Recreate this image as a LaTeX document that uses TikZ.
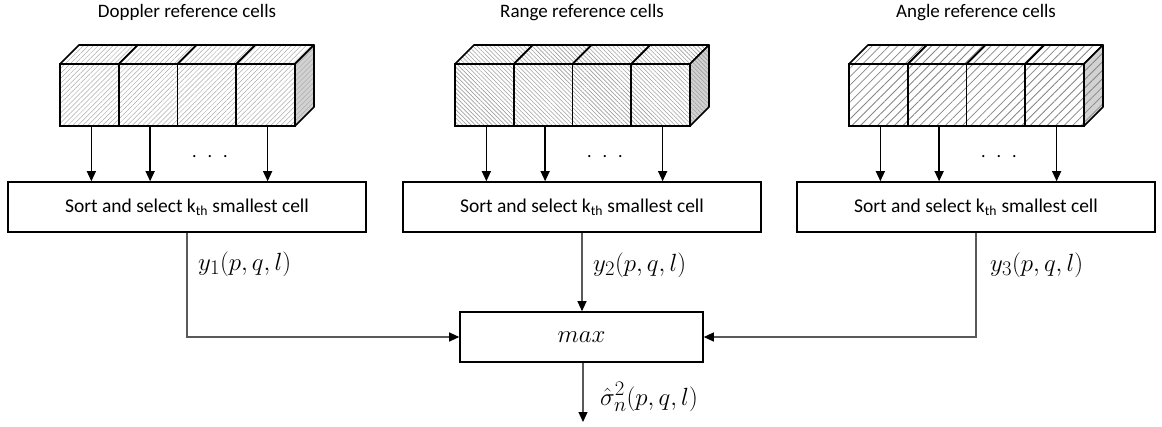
\documentclass[tikz,border=0pt]{standalone}
\usepackage{fontspec}
\setmainfont{Carlito}
\usetikzlibrary{patterns.meta,arrows.meta,calc}

\tikzset{
  cellbox/.style={draw, line width=1.6pt, minimum width=58.75pt, minimum height=62pt,
    inner sep=0pt, outer sep=0pt},
  facebox/.style={draw, line width=1.6pt, line join=round},
  hatchD/.style={pattern={Lines[angle=45,distance=3.5pt,line width=0.5pt]}, pattern color=gray!65},
  hatchR/.style={pattern={Lines[angle=-45,distance=3pt,line width=0.6pt]}, pattern color=gray!75},
  hatchA/.style={pattern={Lines[angle=45,distance=6pt,line width=0.8pt]}, pattern color=gray!95},
  titletext/.style={anchor=base, inner sep=0pt, font=\fontsize{19}{22}\selectfont},
  procbox/.style={draw, line width=1.6pt, minimum width=358pt, minimum height=50pt,
    inner sep=0pt, font=\fontsize{19.5}{22}\selectfont},
  maxbox/.style={draw, line width=1.6pt, minimum width=243pt, minimum height=50pt,
    inner sep=0pt, font=\fontsize{31}{34}\selectfont},
  mathlabel/.style={anchor=base west, inner sep=0pt, font=\fontsize{27.5}{32}\selectfont},
  dotrow/.style={anchor=base, inner sep=0pt, font=\fontsize{18}{20}\selectfont},
  feed/.style={line width=1.3pt, -{Triangle[length=10pt,width=9pt]}},
  conn/.style={line width=1.2pt, draw=black!65, -{Triangle[length=10pt,width=9pt,color=black]}},
}

% A row of four 3-D reference cells: #1 name prefix, #2 left x, #3 hatch style, #4 title
\newcommand\refblock[4]{%
  \foreach \i in {0,...,3} {
    \draw[facebox,#3] ({#2+\i*58.75},64) -- ++(19,-19) -- ++(58.75,0) -- ++(-19,19) -- cycle;
  }
  \draw[facebox,#3,preaction={fill=gray!35}] ({#2+4*58.75},64) -- ++(19,-19) -- ++(0,62) -- ++(-19,19) -- cycle;
  \foreach \i in {1,...,4} {
    \node[cellbox,#3] (#1\i) at ({#2+(\i-0.5)*58.75},95) {};
  }
  \node[titletext] (#1t) at ({#2+127},17) {#4};
  \node[dotrow] (#1dots) at ({#2+2.5*58.75+3},157) {.\hspace{11pt}.\hspace{11pt}.};
}

\begin{document}
\begin{tikzpicture}[x=1pt,y=-1pt]
  \useasboundingbox (0,0) rectangle (1162,426);

  \refblock{d}{60}{hatchD}{Doppler reference cells}
  \refblock{r}{455}{hatchR}{Range reference cells}
  \refblock{a}{849}{hatchA}{Angle reference cells}

  \node[procbox] (dsort) at (187,207) {Sort and select k\textsubscript{th} smallest cell};
  \node[procbox] (rsort) at (582,207) {Sort and select k\textsubscript{th} smallest cell};
  \node[procbox] (asort) at (976,207) {Sort and select k\textsubscript{th} smallest cell};

  \foreach \p in {d,r,a} {
    \foreach \k in {1,2,4} {
      \draw[feed] ([xshift=2pt]\p\k.south) -- ([xshift=2pt]\p\k.south |- \p sort.north);
    }
  }

  \node[maxbox] (max) at (581.5,337) {$max$};

  \node[mathlabel] (l1) at (198,270) {$y_1(p,q,l)$};
  \node[mathlabel] (l2) at (593,271) {$y_2(p,q,l)$};
  \node[mathlabel] (l3) at (990,271) {$y_3(p,q,l)$};
  \node[mathlabel] (lo) at (600,405) {$\hat{\sigma}_n^2(p,q,l)$};

  \draw[conn] (dsort.south) |- (max.west);
  \draw[conn] (rsort.south) -- (rsort.south |- max.north);
  \draw[conn] (asort.south) |- (max.east);

  \coordinate (out) at (583,422);
  \draw[conn] (max.south -| out) -- (out);
\end{tikzpicture}
\end{document}
